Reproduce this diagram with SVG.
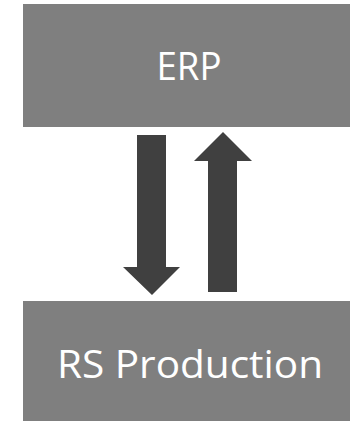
<svg xmlns="http://www.w3.org/2000/svg" width="350" height="421" viewBox="0 0 350 421">
<style>
.box{fill:#7f7f7f}
.lbl{font-family:"Open Sans","Liberation Sans",sans-serif;font-size:38px;fill:#fff;text-anchor:middle}
.arr{fill:#404040}
</style>
<rect width="350" height="421" fill="#fff"/>
<g id="erp">
<rect class="box" x="23" y="4" width="327" height="123"/>
<text class="lbl" x="189" y="80" textLength="65" lengthAdjust="spacingAndGlyphs">ERP</text>
</g>
<g id="rs-production">
<rect class="box" x="23" y="301" width="327" height="120"/>
<text class="lbl" x="190" y="378" textLength="266" lengthAdjust="spacingAndGlyphs">RS Production</text>
</g>
<g id="connectors">
<polygon class="arr" points="137,135 166,135 166,267 180,267 152,295 123,267 137,267"/>
<polygon class="arr" points="208,292 237,292 237,161 252,161 223,132 194,161 208,161"/>
</g>
</svg>
